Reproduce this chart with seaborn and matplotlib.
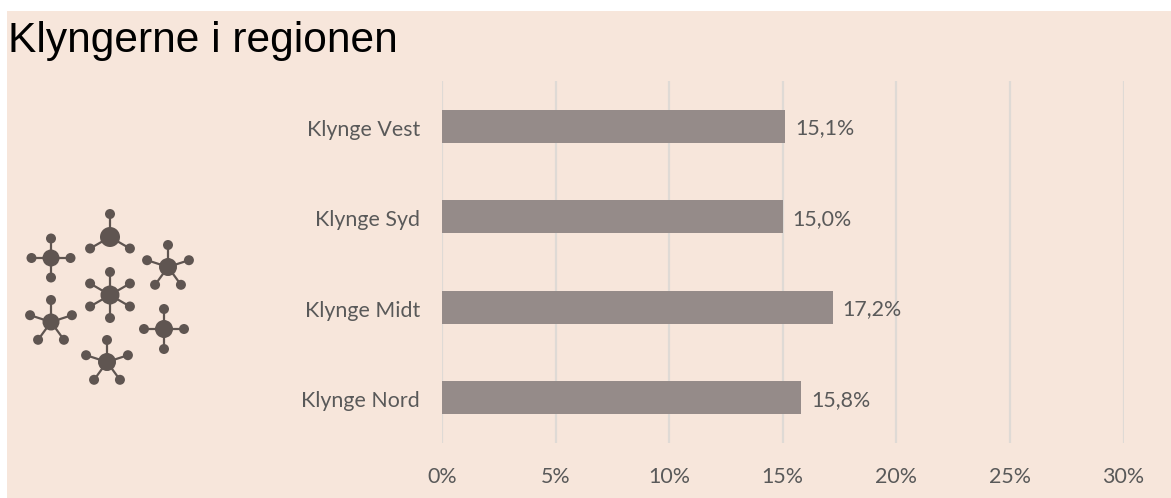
import numpy as np
import pandas as pd
import matplotlib
matplotlib.use("Agg")
import matplotlib.pyplot as plt
from matplotlib.patches import Rectangle, Circle
from matplotlib.transforms import ScaledTranslation
import seaborn as sns

title = "Klyngerne i regionen"
categories = ["Klynge Vest", "Klynge Syd", "Klynge Midt", "Klynge Nord"]
values = [15.1, 15.0, 17.2, 15.8]
value_labels = ["15,1%", "15,0%", "17,2%", "15,8%"]
xticks = [0, 5, 10, 15, 20, 25, 30]

BG = "#F7E6DB"
BAR = "#958B89"
ICON = "#5F5551"
GRID = "#DFDAD5"
TEXT = "#595959"
W, H = 1171, 498

sns.set_theme(style="white")
plt.rcParams["font.family"] = ["Lato", "DejaVu Sans"]

fig = plt.figure(figsize=(W / 100, H / 100), dpi=100, facecolor="white")
fig.add_artist(Rectangle((7 / W, 0), (W - 7) / W, (H - 11) / H,
                         transform=fig.transFigure, facecolor=BG, edgecolor="none",
                         zorder=-5))

# Axes: x=0 at px 442, x=30 at px 1123.5; plot spans y px 81..443
ax = fig.add_axes([442 / W, (H - 443) / H, (1123.5 - 442) / W, (443 - 81) / H])
ax.patch.set_alpha(0)
df = pd.DataFrame({"cat": categories, "val": values})
sns.barplot(data=df, y="cat", x="val", orient="h", color=BAR, saturation=1,
            width=0.365, ax=ax, zorder=3, linewidth=0, edgecolor="none")
ax.set_xlim(0, 30)
ax.set_ylim(3.5, -0.5)
ax.set_xlabel("")
ax.set_ylabel("")
ax.set_xticks(xticks, [f"{t}%" for t in xticks])
ax.grid(axis="x", color=GRID, linewidth=1.6, zorder=0)
ax.grid(axis="y", visible=False)
ax.set_axisbelow(True)
for s in ax.spines.values():
    s.set_visible(False)
ax.tick_params(axis="x", length=0, pad=17, labelsize=15.4, labelcolor=TEXT)
ax.tick_params(axis="y", length=0, pad=16, labelsize=15.4, labelcolor=TEXT)
shift = ScaledTranslation(0, -1.5 / 100, fig.dpi_scale_trans)
for lab in ax.get_yticklabels():
    lab.set_transform(lab.get_transform() + shift)
for i, (v, lab) in enumerate(zip(values, value_labels)):
    ax.annotate(lab, (v, i), xytext=(10, -2), textcoords="offset pixels",
                va="center", ha="left", fontsize=15.4, color=TEXT)

fig.text(8 / W, (H - 41) / H, title, family="Liberation Sans", fontsize=30.6,
         color="black", va="center", ha="left")

# Decorative cluster icon, in pixel space
icon = fig.add_axes([0, 0, 1, 1], zorder=5)
icon.set_xlim(0, W)
icon.set_ylim(H, 0)
icon.axis("off")
hubs = [
    (51, 258, 8.5, 19.5, [90, 0, 180, 270]),
    (110, 237, 10, 23, [90, 210, 330]),
    (168, 267, 9, 22, [90, 162, 18, 234, 306]),
    (110, 295, 9.5, 23, [90, 30, 150, 210, 270, 330]),
    (51, 322, 8.5, 22, [90, 162, 18, 234, 306]),
    (164, 329, 9, 20, [90, 0, 180, 270]),
    (107, 362, 9, 22, [90, 162, 18, 234, 306]),
]
for cx, cy, r, d, angles in hubs:
    icon.add_patch(Circle((cx, cy), r, color=ICON, lw=0))
    for a in angles:
        sx = cx + d * np.cos(np.radians(a))
        sy = cy - d * np.sin(np.radians(a))
        icon.plot([cx, sx], [cy, sy], color=ICON, lw=1.6, solid_capstyle="round")
        icon.add_patch(Circle((sx, sy), 5, color=ICON, lw=0))

fig.savefig("out.png", dpi=100, facecolor="white")
